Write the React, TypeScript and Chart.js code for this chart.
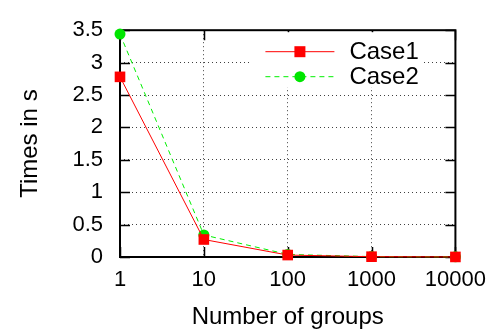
import React, { useEffect, useRef } from "react";
import { Chart, registerables } from "chart.js";

Chart.register(...registerables);

const groups = [1, 10, 100, 1000, 10000];
const case1 = [2.78, 0.27, 0.03, 0.005, 0.001];
const case2 = [3.44, 0.34, 0.04, 0.006, 0.002];
const yTicks = [0, 0.5, 1, 1.5, 2, 2.5, 3, 3.5];
const seriesNames = ["Case1", "Case2"];

const FONT = "'Liberation Sans', Arial, Helvetica, sans-serif";

const boxPlugin = {
  id: "gnuBox",
  beforeDatasetsDraw(chart: any) {
    const { ctx, chartArea } = chart;
    const { left, right, top, bottom } = chartArea;
    const xs = chart.scales.x;
    const ys = chart.scales.y;
    const tl = 10;
    ctx.save();
    ctx.strokeStyle = "#000";
    ctx.lineWidth = 1.5;
    ctx.setLineDash([]);
    ctx.beginPath();
    groups.forEach((g) => {
      const px = Math.round(xs.getPixelForValue(g)) + 0.5;
      ctx.moveTo(px, bottom);
      ctx.lineTo(px, bottom - tl);
      ctx.moveTo(px, top);
      ctx.lineTo(px, top + tl);
    });
    yTicks.forEach((v) => {
      const py = Math.round(ys.getPixelForValue(v)) + 0.5;
      ctx.moveTo(left, py);
      ctx.lineTo(left + tl, py);
      ctx.moveTo(right, py);
      ctx.lineTo(right - tl, py);
    });
    ctx.stroke();
    ctx.lineWidth = 2;
    ctx.strokeRect(left, top, right - left, bottom - top);
    ctx.restore();
  },
  afterDatasetsDraw(chart: any) {
    const { ctx, chartArea } = chart;
    const { right, top } = chartArea;
    ctx.save();
    ctx.fillStyle = "#fff";
    ctx.fillRect(right - 204, top + 2, 170, 55);
    const x0 = right - 190;
    const x1 = right - 121;
    const xm = (x0 + x1) / 2;
    chart.data.datasets.forEach((ds: any, i: number) => {
      const y = top + 21 + i * 25;
      ctx.strokeStyle = ds.borderColor;
      ctx.lineWidth = 1;
      ctx.setLineDash(ds.borderDash || []);
      ctx.beginPath();
      ctx.moveTo(x0, y + 0.5);
      ctx.lineTo(x1, y + 0.5);
      ctx.stroke();
      ctx.setLineDash([]);
      ctx.fillStyle = ds.pointBackgroundColor;
      if (ds.pointStyle === "rect") {
        ctx.fillRect(xm - 5.5, y - 5, 11, 11);
      } else {
        ctx.beginPath();
        ctx.arc(xm, y + 0.5, 5.5, 0, Math.PI * 2);
        ctx.fill();
      }
      ctx.fillStyle = "#000";
      ctx.font = `24px ${FONT}`;
      ctx.textBaseline = "middle";
      ctx.textAlign = "left";
      ctx.fillText(ds.label, right - 106, y + 1);
    });
    ctx.restore();
  },
};

export default function App() {
  const ref = useRef<HTMLCanvasElement>(null);
  useEffect(() => {
    if (!ref.current) return;
    const chart = new Chart(ref.current, {
      type: "line",
      data: {
        datasets: [
          {
            label: seriesNames[0],
            data: groups.map((g, i) => ({ x: g, y: case1[i] })),
            borderColor: "#ff0000",
            backgroundColor: "#ff0000",
            pointBackgroundColor: "#ff0000",
            pointBorderWidth: 0,
            pointStyle: "rect",
            pointRadius: 7.5,
            borderWidth: 1,
            borderDash: [],
            clip: false,
          },
          {
            label: seriesNames[1],
            data: groups.map((g, i) => ({ x: g, y: case2[i] })),
            borderColor: "#00f000",
            backgroundColor: "#00e600",
            pointBackgroundColor: "#00e600",
            pointBorderWidth: 0,
            pointStyle: "circle",
            pointRadius: 5.5,
            borderWidth: 1,
            borderDash: [5, 4],
            clip: false,
          },
        ],
      },
      options: {
        animation: false,
        responsive: false,
        layout: { padding: { left: 0, top: 15, right: 38, bottom: 0 } },
        plugins: { legend: { display: false }, tooltip: { enabled: false } },
        scales: {
          x: {
            type: "logarithmic",
            min: 1,
            max: 10000,
            afterBuildTicks: (s: any) => {
              s.ticks = groups.map((v) => ({ value: v }));
            },
            afterFit: (s: any) => {
              s.height = 76;
            },
            ticks: {
              autoSkip: false,
              maxRotation: 0,
              padding: 10,
              color: "#000",
              font: { family: FONT, size: 22 },
              callback: (v: any) => String(v),
            },
            grid: { drawTicks: false, color: "rgba(0,0,0,0.75)", lineWidth: 1 },
            border: { display: false, dash: [1, 3] },
            title: {
              display: true,
              text: "Number of groups",
              color: "#000",
              font: { family: FONT, size: 24 },
              padding: { top: 0, bottom: 1 },
            },
          },
          y: {
            min: 0,
            max: 3.5,
            afterBuildTicks: (s: any) => {
              s.ticks = yTicks.map((v) => ({ value: v }));
            },
            afterFit: (s: any) => {
              s.width = 120;
            },
            ticks: {
              padding: 17,
              color: "#000",
              font: { family: FONT, size: 22 },
              callback: (v: any) => String(v),
            },
            grid: { drawTicks: false, color: "rgba(0,0,0,0.75)", lineWidth: 1 },
            border: { display: false, dash: [1, 3] },
            title: {
              display: true,
              text: "Times in s",
              color: "#000",
              font: { family: FONT, size: 24 },
              padding: { top: 16, bottom: 0 },
            },
          },
        },
      },
      plugins: [boxPlugin],
    } as any);
    return () => chart.destroy();
  }, []);
  return (
    <div style={{ position: "absolute", left: 0, top: 0, width: 496, height: 333, background: "#fff" }}>
      <canvas ref={ref} width={496} height={333} />
    </div>
  );
}
